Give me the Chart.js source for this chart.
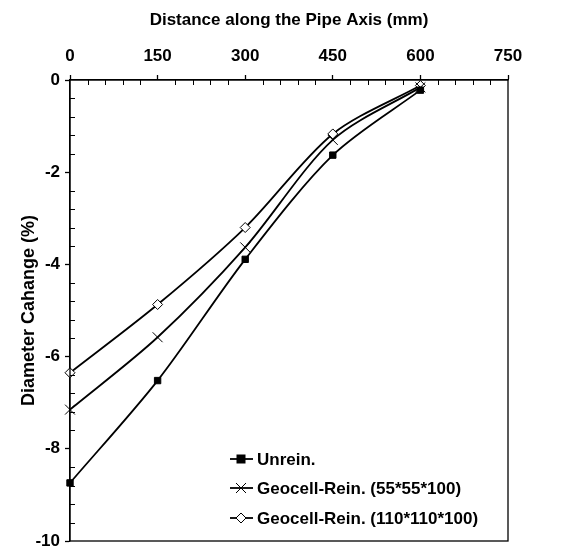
<!DOCTYPE html>
<html>
<head>
<meta charset="utf-8">
<script src="https://cdn.jsdelivr.net/npm/chart.js@4"></script>
<style>
  html, body { margin: 0; padding: 0; background: #fff; }
  #wrap { width: 569px; height: 549px; }
</style>
</head>
<body>
<div id="wrap"><canvas id="c" width="569" height="549"></canvas></div>
<script>
// Distance along the pipe axis (mm)
const distance = [0, 150, 300, 450, 600];

// Diameter change (%) per series
const unrein = [-8.74, -6.52, -3.89, -1.63, -0.22];
const geocell55 = [-7.15, -5.58, -3.63, -1.30, -0.16];
const geocell110 = [-6.35, -4.87, -3.20, -1.17, -0.12];

const seriesNames = [
    'Unrein.',
    'Geocell-Rein. (55*55*100)',
    'Geocell-Rein. (110*110*100)'
];

const FONT = "'Liberation Sans', Arial, sans-serif";

function toPoints(ys) {
    return distance.map((x, i) => ({ x: x, y: ys[i] }));
}

// minor ticks, frame and in-plot legend
const framePlugin = {
    id: 'frame',
    afterDraw(chart) {
        const ctx = chart.ctx;
        const area = chart.chartArea;
        const xs = chart.scales.x;
        const ys = chart.scales.y;
        ctx.save();
        ctx.strokeStyle = '#000';
        ctx.lineWidth = 1.3;
        ctx.strokeRect(area.left, area.top, area.right - area.left, area.bottom - area.top);

        ctx.lineWidth = 1;
        ctx.beginPath();
        for (let v = 30; v < 750; v += 30) {
            if (v % 150 === 0) continue;
            const px = Math.round(xs.getPixelForValue(v)) + 0.5;
            ctx.moveTo(px, area.top);
            ctx.lineTo(px, area.top + 5);
        }
        for (let i = 1; i < 25; i++) {
            if (i % 5 === 0) continue;
            const py = Math.round(ys.getPixelForValue(-0.4 * i)) + 0.5;
            ctx.moveTo(area.left, py);
            ctx.lineTo(area.left + 5, py);
        }
        ctx.stroke();

        // legend
        const lx = area.left + 160;
        const rowY = [area.bottom - 82, area.bottom - 53, area.bottom - 23];
        ctx.font = 'bold 17px ' + FONT;
        ctx.textBaseline = 'middle';
        ctx.fillStyle = '#000';
        chart.data.datasets.forEach((ds, i) => {
            const y = rowY[i];
            ctx.lineWidth = 1.8;
            ctx.beginPath();
            ctx.moveTo(lx, y);
            ctx.lineTo(lx + 23, y);
            ctx.stroke();
            drawMarker(ctx, ds.pointStyle, lx + 11, y);
            ctx.fillText(ds.label, lx + 27, y + 1);
        });
        ctx.restore();
    }
};

function drawMarker(ctx, style, x, y) {
    ctx.save();
    ctx.lineWidth = 1;
    ctx.beginPath();
    if (style === 'rect') {
        ctx.fillStyle = '#000';
        ctx.fillRect(x - 4.5, y - 4.5, 9, 9);
    } else if (style === 'crossRot') {
        ctx.moveTo(x - 5, y - 5); ctx.lineTo(x + 5, y + 5);
        ctx.moveTo(x - 5, y + 5); ctx.lineTo(x + 5, y - 5);
        ctx.stroke();
    } else {
        const r = 5;
        ctx.fillStyle = '#fff';
        ctx.moveTo(x, y - r); ctx.lineTo(x + r, y); ctx.lineTo(x, y + r); ctx.lineTo(x - r, y);
        ctx.closePath();
        ctx.fill();
        ctx.stroke();
    }
    ctx.restore();
}

const common = {
    borderColor: '#000',
    borderWidth: 1.8,
    pointBorderColor: '#000',
    pointBorderWidth: 1,
    tension: 0.3,
    fill: false,
    clip: false
};

new Chart(document.getElementById('c'), {
    type: 'line',
    data: {
        datasets: [
            Object.assign({}, common, {
                label: seriesNames[0], data: toPoints(unrein),
                pointStyle: 'rect', pointRadius: 4.5, pointBackgroundColor: '#000'
            }),
            Object.assign({}, common, {
                label: seriesNames[1], data: toPoints(geocell55),
                pointStyle: 'crossRot', pointRadius: 7, pointBackgroundColor: '#000'
            }),
            Object.assign({}, common, {
                label: seriesNames[2], data: toPoints(geocell110),
                pointStyle: 'rectRot', pointRadius: 5, pointBackgroundColor: '#fff'
            })
        ]
    },
    options: {
        responsive: false,
        animation: false,
        layout: { padding: { left: 18, right: 61, top: 10, bottom: 8 } },
        plugins: {
            legend: { display: false },
            tooltip: { enabled: false }
        },
        scales: {
            x: {
                type: 'linear',
                position: 'top',
                min: 0, max: 750,
                ticks: { stepSize: 150, color: '#000', font: { family: FONT, size: 17, weight: 'bold' }, padding: 8 },
                grid: { drawOnChartArea: false, color: '#000', tickLength: 5, tickWidth: 1.3 },
                border: { color: '#000', width: 1.3 },
                title: { display: true, text: 'Distance along the Pipe Axis (mm)', color: '#000',
                         font: { family: FONT, size: 17, weight: 'bold' }, padding: { top: 0, bottom: 8 } },
                afterFit(scale) { scale.height = 70; }
            },
            y: {
                type: 'linear',
                min: -10, max: 0,
                ticks: { stepSize: 2, color: '#000', font: { family: FONT, size: 17, weight: 'bold' }, padding: 5 },
                grid: { drawOnChartArea: false, color: '#000', tickLength: 5, tickWidth: 1.3 },
                border: { color: '#000', width: 1.3 },
                title: { display: true, text: 'Diameter Cahange (%)', color: '#000',
                         font: { family: FONT, size: 18, weight: 'bold' }, padding: { top: 0, bottom: 4 } },
                afterFit(scale) {
                    scale.width = 52;
                    scale.paddingBottom = 0;
                    scale.paddingTop = 0;
                }
            }
        }
    },
    plugins: [framePlugin]
});
</script>
</body>
</html>
